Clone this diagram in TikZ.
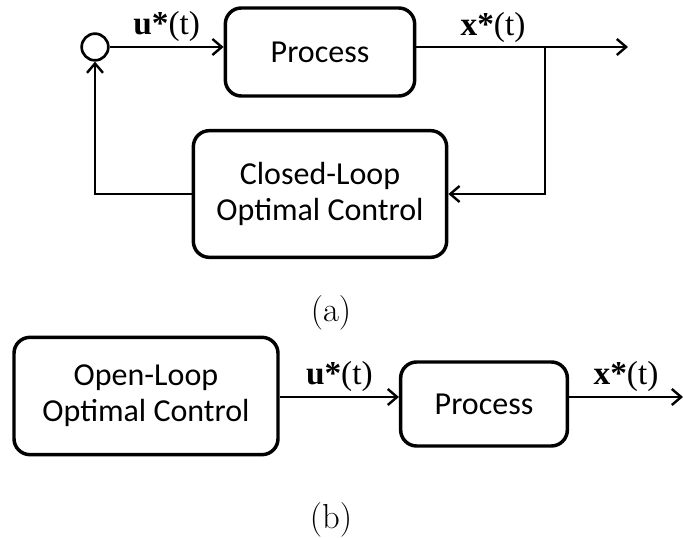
\documentclass[tikz,border=0pt]{standalone}
\usepackage{fontspec}
\setsansfont{Carlito}
\newfontfamily\lblfont{Liberation Serif}
\usetikzlibrary{arrows.meta,positioning}
\tikzset{
  blk/.style={draw,line width=2.6pt,rounded corners=12pt,align=center,font=\sffamily\fontsize{24}{27}\selectfont},
  sig/.style={line width=1.8pt,-{Straight Barb[length=7pt,width=12pt,line width=1.8pt]}},
  lbl/.style={font=\lblfont\fontsize{25}{28}\selectfont,inner sep=1pt},
  captxt/.style={font=\fontsize{26}{30}\selectfont}
}
\begin{document}
\begin{tikzpicture}[x=0.75pt,y=-0.75pt]
\useasboundingbox (0,0) rectangle (683,538);
%(a) closed loop
\node[draw,circle,line width=2pt,minimum size=20pt,inner sep=0pt] (sum) at (95,47) {};
\node[blk,minimum width=142pt,minimum height=66pt] (proc) at (320,52) {Process};
\node[blk,minimum width=190pt,minimum height=95pt] (clc) at (320,194) {Closed-Loop\\Optimal Control};
\coordinate (out) at (628,47);
\coordinate (br) at (545,47);
\draw[sig] (sum.east) -- (sum.east-|proc.west) node[lbl,midway,above=2pt] {{\bfseries u*}(t)};
\draw[sig] (proc.east|-out) -- (out);
\node[lbl,above=2pt] (xlbl) at (493,47) {{\bfseries x*}(t)};
\draw[sig] (br) -- (br|-clc.east) -- (clc.east);
\draw[sig] (clc.west) -- (sum.south|-clc.west) -- (sum.south);
\node[captxt] (capa) at (331,313) {(a)};
%(b) open loop
\node[blk,minimum width=198pt,minimum height=88pt] (olc) at (146,396) {Open-Loop\\Optimal Control};
\node[blk,minimum width=125pt,minimum height=63pt] (proc2) at (484,404) {Process};
\coordinate (out2) at (683,397);
\draw[sig] (olc.east|-out2) -- (proc2.west|-out2) node[lbl,midway,above=2pt] {{\bfseries u*}(t)};
\draw[sig] (proc2.east|-out2) -- (out2) node[lbl,midway,above=2pt] {{\bfseries x*}(t)};
\node[captxt] (capb) at (331,520) {(b)};
\end{tikzpicture}
\end{document}
